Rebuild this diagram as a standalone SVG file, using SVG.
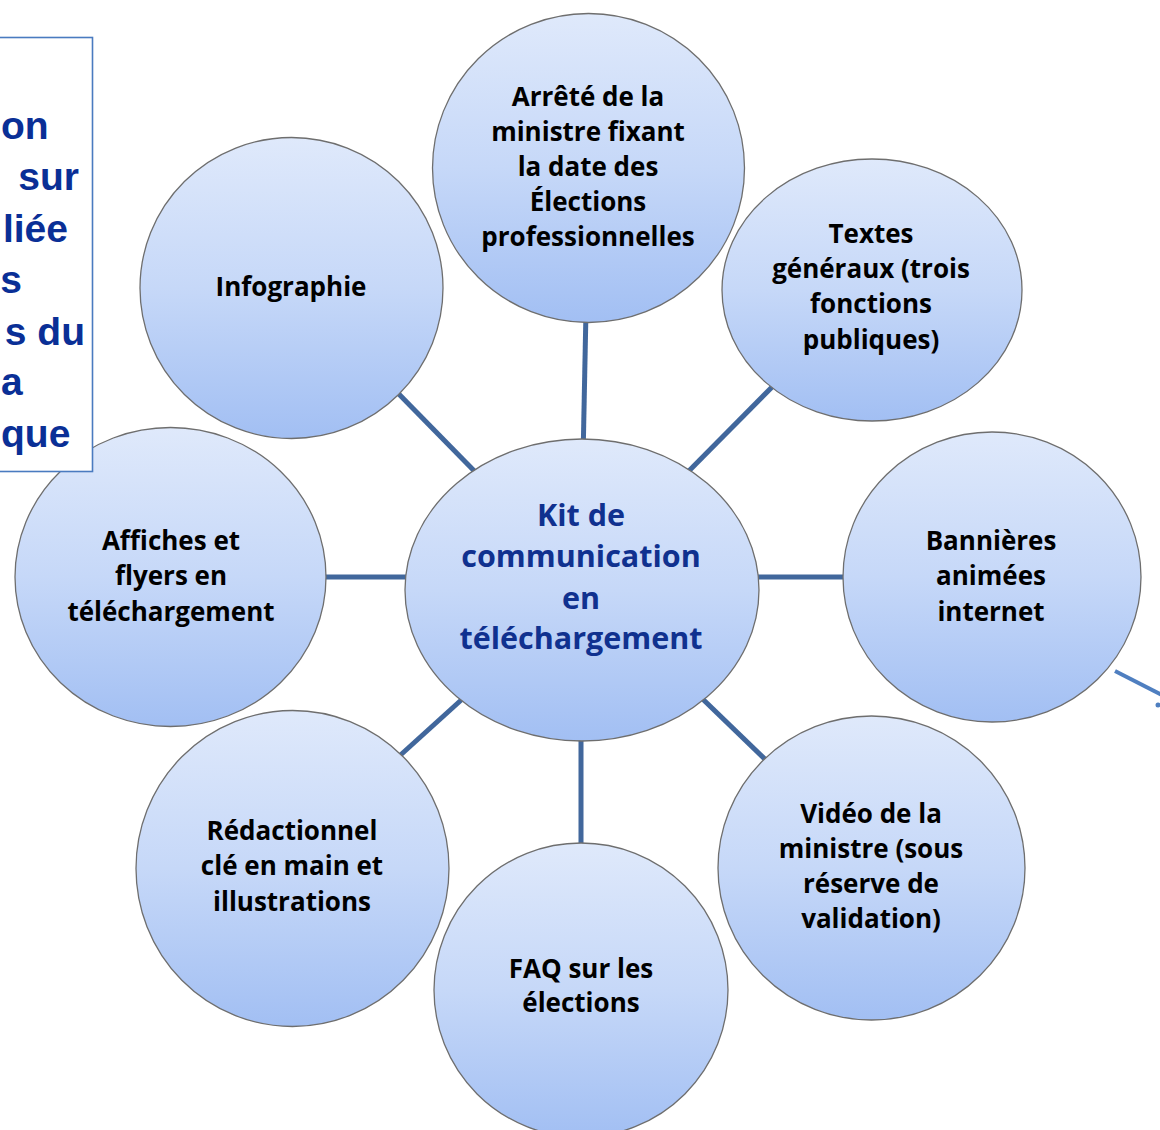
<svg xmlns="http://www.w3.org/2000/svg" width="1160" height="1130" viewBox="0 0 1160 1130">
<defs>
<linearGradient id="g" x1="0" y1="0" x2="0" y2="1">
<stop offset="0" stop-color="#dfe9fb"/>
<stop offset="0.5" stop-color="#c6d8f8"/>
<stop offset="1" stop-color="#a2bff3"/>
</linearGradient>
<style>
.n{fill:url(#g);stroke:#6e6e6e;stroke-width:1.3}
.t{font-family:"Open Sans","Liberation Sans",sans-serif;font-weight:bold;font-size:26px;fill:#000;text-anchor:middle}
.c{font-family:"Open Sans","Liberation Sans",sans-serif;font-weight:bold;font-size:30.5px;fill:#10318f;text-anchor:middle}
.l{stroke:#41679c;stroke-width:5;fill:none}
.b{font-family:"Liberation Sans",Arial,sans-serif;font-weight:bold;font-size:39px;fill:#0a2f96;text-anchor:end}
.bs{font-family:"Liberation Sans",Arial,sans-serif;font-weight:bold;font-size:39px;fill:#0a2f96;text-anchor:start}
</style>
</defs>
<rect width="1160" height="1130" fill="#fff"/>
<g id="connectors">
<line class="l" x1="586" y1="310" x2="583" y2="460"/>
<line class="l" x1="390" y1="385" x2="490" y2="487"/>
<line class="l" x1="780" y1="379" x2="675" y2="485"/>
<line class="l" x1="316" y1="577" x2="425" y2="577"/>
<line class="l" x1="738" y1="577" x2="853" y2="577"/>
<line class="l" x1="395" y1="760" x2="480" y2="683"/>
<line class="l" x1="581" y1="720" x2="581" y2="853"/>
<line class="l" x1="684" y1="681" x2="772" y2="766"/>
<line x1="1115" y1="671" x2="1164" y2="696" stroke="#4f7fc0" stroke-width="4"/>
<circle cx="1158" cy="705" r="2.5" fill="#4f7fc0"/>
</g>
<g id="n-arrete">
<ellipse class="n" cx="588.5" cy="168" rx="156" ry="154.5"/>
<text class="t" x="588" y="106">Arrêté de la</text>
<text class="t" x="588" y="141">ministre fixant</text>
<text class="t" x="588" y="176">la date des</text>
<text class="t" x="588" y="211">Élections</text>
<text class="t" x="588" y="246">professionnelles</text>
</g>
<g id="n-infographie">
<ellipse class="n" cx="291.5" cy="288" rx="151.5" ry="150.5"/>
<text class="t" x="291" y="296">Infographie</text>
</g>
<g id="n-textes">
<ellipse class="n" cx="872" cy="290" rx="150" ry="131"/>
<text class="t" x="871" y="243">Textes</text>
<text class="t" x="871" y="278">généraux (trois</text>
<text class="t" x="871" y="313">fonctions</text>
<text class="t" x="871" y="349">publiques)</text>
</g>
<g id="n-affiches">
<ellipse class="n" cx="170.5" cy="577" rx="155.5" ry="149.5"/>
<text class="t" x="171" y="550">Affiches et</text>
<text class="t" x="171" y="585">flyers en</text>
<text class="t" x="171" y="621">téléchargement</text>
</g>
<g id="n-bannieres">
<ellipse class="n" cx="992" cy="577" rx="149" ry="145"/>
<text class="t" x="991" y="550">Bannières</text>
<text class="t" x="991" y="585">animées</text>
<text class="t" x="991" y="621">internet</text>
</g>
<g id="n-redactionnel">
<ellipse class="n" cx="292.5" cy="868.5" rx="156.5" ry="158"/>
<text class="t" x="292" y="840">Rédactionnel</text>
<text class="t" x="292" y="875">clé en main et</text>
<text class="t" x="292" y="911">illustrations</text>
</g>
<g id="n-faq">
<ellipse class="n" cx="581" cy="990" rx="147" ry="147"/>
<text class="t" x="581" y="978">FAQ sur les</text>
<text class="t" x="581" y="1012">élections</text>
</g>
<g id="n-video">
<ellipse class="n" cx="871.5" cy="868" rx="153.5" ry="152"/>
<text class="t" x="871" y="823">Vidéo de la</text>
<text class="t" x="871" y="858">ministre (sous</text>
<text class="t" x="871" y="893">réserve de</text>
<text class="t" x="871" y="928">validation)</text>
</g>
<g id="n-center">
<ellipse class="n" cx="582" cy="590" rx="177" ry="151"/>
<text class="c" x="581" y="526">Kit de</text>
<text class="c" x="581" y="567">communication</text>
<text class="c" x="581" y="609">en</text>
<text class="c" x="581" y="649">téléchargement</text>
</g>
<g id="side-box">
<rect x="-2" y="37.5" width="94.5" height="434" fill="#fff" stroke="#4a7bc0" stroke-width="1.6"/>
<text class="bs" x="1" y="139">on</text>
<text class="b" x="79" y="190">sur</text>
<text class="b" x="68" y="242">liée</text>
<text class="b" x="22" y="293">s</text>
<text class="b" x="85" y="345">s du</text>
<text class="bs" x="1" y="395">a</text>
<text class="bs" x="1" y="447">que</text>
</g>
</svg>
